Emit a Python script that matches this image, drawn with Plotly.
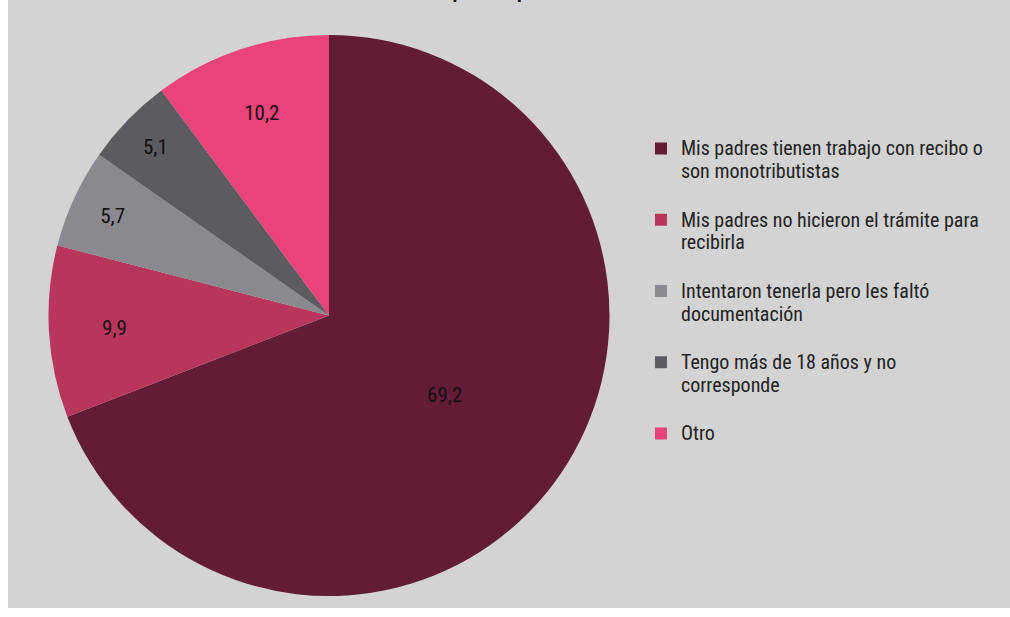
import plotly.graph_objects as go

categories = [
    "Mis padres tienen trabajo con recibo o<br>son monotributistas",
    "Mis padres no hicieron el trámite para<br>recibirla",
    "Intentaron tenerla pero les faltó<br>documentación",
    "Tengo más de 18 años y no<br>corresponde",
    "Otro",
]
values = [69.2, 9.9, 5.7, 5.1, 10.2]
value_labels = ["69,2", "9,9", "5,7", "5,1", "10,2"]
colors = ["#631c35", "#b8355e", "#8a8a8e", "#5c5b60", "#e9437a"]
title_text = "Razones por las que no la reciben"

FONT = "Roboto Condensed, Arial Narrow, sans-serif"


def legend_label(c, last):
    body = "<br>".join(
        "<span style='font-size:20px'>" + part + "</span>" for part in c.split("<br>")
    )
    return body if last else body + "<br> "


legend_labels = [legend_label(c, i == len(categories) - 1) for i, c in enumerate(categories)]

fig = go.Figure(
    go.Pie(
        labels=legend_labels,
        values=values,
        text=value_labels,
        textinfo="text",
        textposition="inside",
        insidetextorientation="horizontal",
        textfont=dict(family=FONT, size=21, color="#111111"),
        marker=dict(colors=colors, line=dict(width=0)),
        sort=False,
        direction="clockwise",
        rotation=0,
        domain=dict(x=[0.0399, 0.6008], y=[0.0197, 0.9424]),
        hoverinfo="percent",
    )
)

fig.update_layout(
    width=1010,
    height=617,
    margin=dict(l=8, r=0, t=0, b=9),
    paper_bgcolor="#ffffff",
    font=dict(family=FONT, size=17.5, color="#222222"),
    showlegend=True,
    legend=dict(
        x=0.6317,
        y=0.785,
        xanchor="left",
        yanchor="top",
        valign="top",
        bgcolor="rgba(0,0,0,0)",
        font=dict(family=FONT, size=17.5, color="#222222"),
        tracegroupgap=0,
    ),
    shapes=[
        dict(
            type="rect", xref="paper", yref="paper",
            x0=0, x1=1, y0=0, y1=1,
            fillcolor="#d3d3d3", line=dict(width=0), layer="below",
        )
    ],
    annotations=[
        dict(
            text="<b>" + title_text + "</b>",
            xref="paper", yref="paper", x=0.505, y=1,
            xanchor="center", yanchor="bottom", yshift=-5,
            showarrow=False,
            font=dict(family=FONT, size=20, color="#111111"),
        )
    ],
)

fig.write_html(
    "out.html",
    config={"displayModeBar": False},
    post_script="document.body.style.margin='0';document.body.style.padding='0';document.body.style.overflow='hidden';",
)
